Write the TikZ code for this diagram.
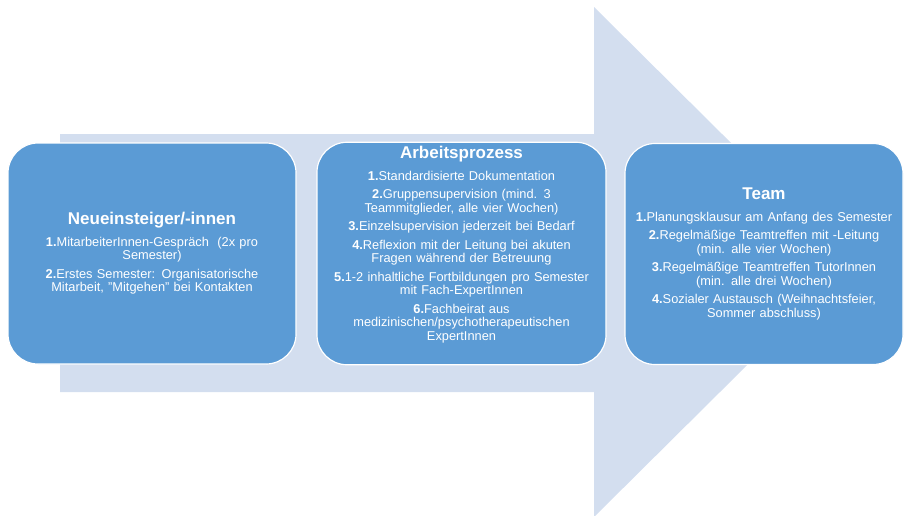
\documentclass[tikz,border=0pt]{standalone}
\usepackage{fontspec}
\setmainfont{Liberation Sans}
\definecolor{boxblue}{RGB}{91,155,213}
\definecolor{arrowblue}{RGB}{211,222,239}
\newcommand{\boxtitle}[1]{{\fontsize{17}{20}\selectfont\bfseries #1}\\[8pt]}

\begin{document}
\begin{tikzpicture}[x=1pt,y=-1pt,
  phasebox/.style={draw=white,line width=1.2pt,fill=boxblue,rounded corners=30pt,
    text=white,align=center,inner sep=4pt,minimum height=221pt,
    font=\fontsize{12.8}{13.5}\selectfont}]
\useasboundingbox (0,0) rectangle (904,515);
% big background arrow
\fill[arrowblue] (60,134) -- (594,134) -- (594,7) -- (851,262) -- (594,517) -- (594,392) -- (60,392) -- cycle;

\node[phasebox,minimum width=288pt,text width=278pt] (neu) at (152,253.5) {\boxtitle{Neueinsteiger/-innen}
\textbf{1.}MitarbeiterInnen-Gespräch~ (2x pro\\ Semester)\\[5pt]
\textbf{2.}Erstes Semester: Organisatorische\\ Mitarbeit, "Mitgehen" bei Kontakten};

% text sits a bit higher in this box
\node[phasebox,minimum width=289pt,text width=279pt] (prozess) at (461.5,253.5) {\boxtitle{Arbeitsprozess}
\textbf{1.}Standardisierte Dokumentation\\[5pt]
\textbf{2.}Gruppensupervision (mind. 3\\ Teammitglieder, alle vier Wochen)\\[5pt]
\textbf{3.}Einzelsupervision jederzeit bei Bedarf\\[5pt]
\textbf{4.}Reflexion mit der Leitung bei akuten\\ Fragen während der Betreuung\\[5pt]
\textbf{5.}1-2 inhaltliche Fortbildungen pro Semester\\ mit Fach-ExpertInnen\\[5pt]
\textbf{6.}Fachbeirat aus\\ medizinischen/psychotherapeutischen\\ ExpertInnen\\ \rule{0pt}{17pt}};

\node[phasebox,minimum width=278pt,text width=270pt] (team) at (764,254) {\boxtitle{Team}
\textbf{1.}Planungsklausur am Anfang des Semester\\[5pt]
\textbf{2.}Regelmäßige Teamtreffen mit -Leitung\\ (min. alle vier Wochen)\\[5pt]
\textbf{3.}Regelmäßige Teamtreffen TutorInnen\\ (min. alle drei Wochen)\\[5pt]
\textbf{4.}Sozialer Austausch (Weihnachtsfeier,\\ Sommer abschluss)};
\end{tikzpicture}
\end{document}
